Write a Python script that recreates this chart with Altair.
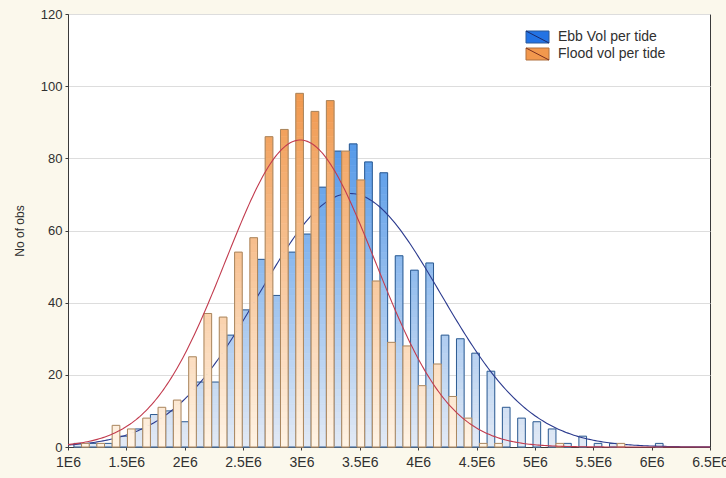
import math

import altair as alt
import numpy as np
import pandas as pd

# ---- data -------------------------------------------------------------
# lower edge of each histogram bin, in units of 1E6
bin_lower_e6 = [
    1.0506, 1.1817, 1.3128, 1.4439, 1.5750, 1.7061, 1.8372, 1.9683,
    2.0994, 2.2305, 2.3616, 2.4927, 2.6238, 2.7549, 2.8860, 3.0171,
    3.1482, 3.2793, 3.4104, 3.5415, 3.6726, 3.8037, 3.9348, 4.0659,
    4.1970, 4.3281, 4.4592, 4.5903, 4.7214, 4.8525, 4.9836, 5.1147,
    5.2458, 5.3769, 5.5080, 5.6391, 5.7702, 5.9013, 6.0324,
]
ebb_counts = [
    1, 1, 1, 3, 5, 9, 10, 7, 18, 18, 31, 38, 52, 42, 54, 59, 72, 82, 84, 79,
    76, 53, 49, 51, 31, 30, 26, 21, 11, 8, 7, 5, 1, 3, 1, 1, 0, 0, 1,
]
flood_counts = [
    1, 1, 6, 5, 8, 11, 13, 25, 37, 36, 54, 58, 86, 88, 98, 93, 96, 82, 74, 46,
    29, 28, 17, 23, 14, 8, 1, 1, 0, 0, 0, 1, 0, 0, 0, 1, 0, 0, 0,
]
series_names = ["Ebb Vol per tide", "Flood vol per tide"]

# fitted normal distributions (mean, sd), units of 1E6
ebb_fit = (3.415, 0.775)
flood_fit = (2.99, 0.64)

x_ticks_e6 = [1, 1.5, 2, 2.5, 3, 3.5, 4, 4.5, 5, 5.5, 6, 6.5]
y_ticks = [0, 20, 40, 60, 80, 100, 120]
y_title = "No of obs"

# ---- styling ----------------------------------------------------------
PLOT_W, PLOT_H = 642, 433
BG = "#FBF8EC"
FONT = "Liberation Sans"
TEXT = "#303030"
FRAME = "#3a3a3a"

styles = {
    "ebb": dict(bottom=(227, 234, 245), top=(58, 138, 230), edge="#2D5B91",
                curve="#2B3A8E", swatch="#2373E4", swatch_edge="#2A5A9A",
                diag="#1A2A6A"),
    "flood": dict(bottom=(255, 244, 230), top=(240, 150, 74), edge="#A9865F",
                  curve="#C23B4E", swatch="#F2984D", swatch_edge="#B0703E",
                  diag="#7A3020"),
}


def shade(key, v):
    s = styles[key]
    t = min(max(v / 100.0, 0.0), 1.0)
    rgb = [round(b + (a - b) * t) for a, b in zip(s["top"], s["bottom"])]
    return "#%02x%02x%02x" % tuple(rgb)


# ---- tables -----------------------------------------------------------
bin_w = (bin_lower_e6[1] - bin_lower_e6[0]) * 1e6
bars = []
for lo, e, f in zip(bin_lower_e6, ebb_counts, flood_counts):
    x0 = lo * 1e6
    bars.append(dict(series="ebb", x0=x0, x1=x0 + bin_w / 2, count=e))
    bars.append(dict(series="flood", x0=x0 + bin_w / 2, x1=x0 + bin_w, count=f))
bars = pd.DataFrame(bars)

# each bar is drawn as thin horizontal slices so the shading follows the y axis
slices = []
for r in bars.itertuples():
    b = 0.0
    while b < r.count:
        top = min(b + 2.0, r.count)
        slices.append(dict(series=r.series, x0=r.x0, x1=r.x1, y0=b, y1=top,
                           fill=shade(r.series, (b + top) / 2)))
        b = top
slices = pd.DataFrame(slices)

xs = np.linspace(1.0, 6.5, 331)
curves = []
for key, (m, sd), counts in (("ebb", ebb_fit, ebb_counts),
                             ("flood", flood_fit, flood_counts)):
    scale = sum(counts) * (bin_w / 1e6) / (sd * math.sqrt(2 * math.pi))
    for x in xs:
        curves.append(dict(series=key, x=x * 1e6,
                           y=scale * math.exp(-((x - m) ** 2) / (2 * sd * sd))))
curves = pd.DataFrame(curves)

x_scale = alt.Scale(domain=[1e6, 6.5e6], nice=False, zero=False)
y_scale = alt.Scale(domain=[0, 120], nice=False)

x_axis = alt.Axis(values=[v * 1e6 for v in x_ticks_e6],
                  labelExpr="(datum.value / 1000000) + 'E6'",
                  title=None, grid=False, labelPadding=5, labelFlush=False,
                  labelFontSize=14)
y_axis = alt.Axis(values=y_ticks, title=y_title, grid=True, labelPadding=3,
                  titlePadding=14, titleFontWeight="normal", titleFontSize=12,
                  titleFont=FONT, titleColor=TEXT)


def X(field):
    return alt.X(field, scale=x_scale, axis=x_axis)


def Y(field):
    return alt.Y(field, scale=y_scale, axis=y_axis)


def slice_layer(key):
    return alt.Chart(slices).transform_filter(
        alt.datum.series == key
    ).mark_rect(strokeWidth=0.6).encode(
        x=X("x0:Q"), x2="x1:Q",
        y=Y("y0:Q"), y2="y1:Q",
        fill=alt.Fill("fill:N", scale=None),
        stroke=alt.Stroke("fill:N", scale=None),
    )


def outline_layer(key):
    return alt.Chart(bars).transform_filter(
        (alt.datum.series == key) & (alt.datum.count > 0)
    ).mark_rect(fillOpacity=0, stroke=styles[key]["edge"], strokeWidth=1).encode(
        x=X("x0:Q"), x2="x1:Q",
        y=Y("count:Q"), y2=alt.value(PLOT_H),
    )


def curve_layer(key):
    return alt.Chart(curves).transform_filter(
        alt.datum.series == key
    ).mark_line(color=styles[key]["curve"], strokeWidth=1.1).encode(
        x=X("x:Q"), y=Y("y:Q"),
    )


# legend in the upper right corner of the plot
one = pd.DataFrame({"k": [0]})
legend_layers = []
for i, (key, name) in enumerate(zip(["ebb", "flood"], series_names)):
    s = styles[key]
    top = 17 + i * 17
    legend_layers.append(alt.Chart(one).mark_rect(
        fill=s["swatch"], stroke=s["swatch_edge"], strokeWidth=1).encode(
        x=alt.value(458), x2=alt.value(481), y=alt.value(top), y2=alt.value(top + 12)))
    legend_layers.append(alt.Chart(one).mark_rule(
        color=s["diag"], strokeWidth=1).encode(
        x=alt.value(458), x2=alt.value(481), y=alt.value(top), y2=alt.value(top + 12)))
    legend_layers.append(alt.Chart(one).mark_text(
        text=name, align="left", baseline="middle", font=FONT, fontSize=14,
        color=TEXT).encode(x=alt.value(490), y=alt.value(top + 6)))

chart = alt.layer(
    slice_layer("ebb"),
    outline_layer("ebb"),
    curve_layer("ebb"),
    slice_layer("flood"),
    outline_layer("flood"),
    curve_layer("flood"),
    *legend_layers,
).properties(
    width=PLOT_W,
    height=PLOT_H,
    background=BG,
    padding={"left": 68, "top": 14, "right": 16, "bottom": 31},
    autosize=alt.AutoSizeParams(type="none"),
).configure_view(
    fill="white", stroke=FRAME, strokeWidth=1,
).configure_axis(
    labelFont=FONT, labelFontSize=13, labelColor=TEXT,
    domainColor=FRAME, tickColor=FRAME, tickSize=3,
    gridColor="#DDDDDD", gridWidth=1,
)

chart.save("out.html", embed_options={"renderer": "svg", "actions": False})
